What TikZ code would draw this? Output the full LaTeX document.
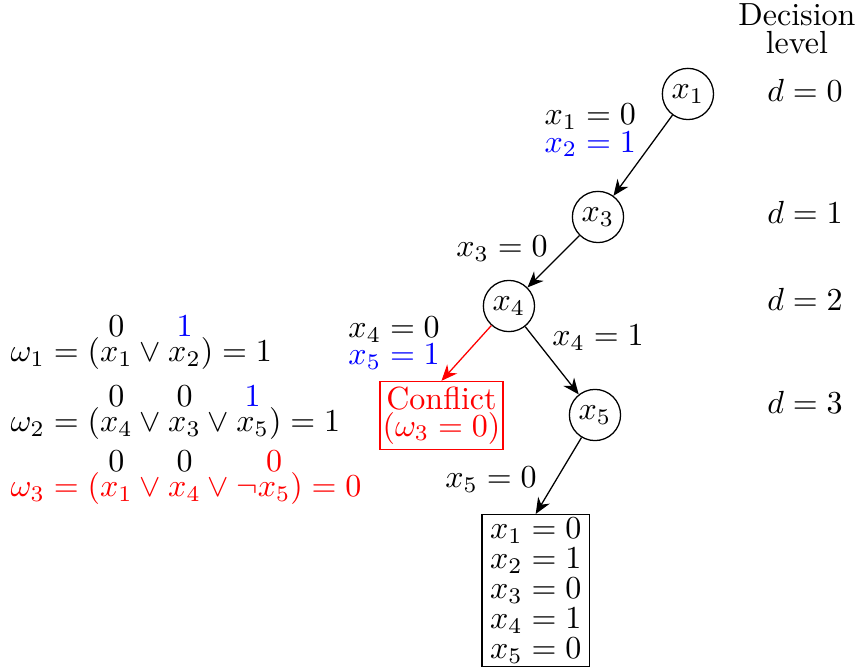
\documentclass[tikz,border=0pt]{standalone}
\usepackage{amsmath}
\usepackage{xcolor}
\usetikzlibrary{arrows.meta, positioning, calc}

\newcommand{\topval}[2]{\overset{\textstyle #1\rule[-2.4pt]{0pt}{0pt}}{#2}}

\begin{document}
\begin{tikzpicture}[
    var/.style={circle, draw, minimum size=16pt, inner sep=1pt},
    line/.style={draw, -{Stealth[length=5pt, width=4.2pt, inset=1.6pt]}},
    lbl/.style={align=center},
    clause/.style={anchor=base west, inner sep=0pt},
    level/.style={anchor=base}
]
    \useasboundingbox (0,0) rectangle (9.457,-7.326);

    % search tree
    \node [var] (x1) at (7.556,-1.032) {$x_1$};
    \node [var] (x3) at (6.568,-2.383) {$x_3$};
    \node [var] (x4) at (5.590,-3.361) {$x_4$};
    \node [var] (x5) at (6.535,-4.558) {$x_5$};

    \node [draw=red, text=red, align=center, inner xsep=0.8pt, inner ysep=1.7pt] (conflict) at (4.849,-4.563) {Conflict\\[-3.7pt]$(\omega_3 = 0)$};
    \node [draw, align=left, inner xsep=2.5pt, inner ysep=1pt, anchor=north] (result) at (5.884,-5.645) {$x_1 = 0$\\[-2.6pt]$x_2 = 1$\\[-2.6pt]$x_3 = 0$\\[-2.6pt]$x_4 = 1$\\[-2.6pt]$x_5 = 0$};

    \draw [line] (x1) -- node[lbl, pos=0.19, left=4.4pt] {$x_1 = 0$\\[-3.4pt]\textcolor{blue}{$x_2 = 1$}} (x3);
    \draw [line] (x3) -- node[lbl, pos=0.26, left=2.2pt] {$x_3 = 0$} (x4);
    \draw [line, red] (x4) -- node[lbl, text=black, pos=0.32, left=7.6pt] {$x_4 = 0$\\[-3.4pt]\textcolor{blue}{$x_5 = 1$}} (conflict.north);
    \draw [line] (x4) -- node[lbl, pos=0.16, right=2.3pt] {$x_4 = 1$} (x5);
    \draw [line] (x5) -- node[lbl, pos=0.55, left=2.6pt] {$x_5 = 0$} (result.north);

    % decision levels
    \node [align=center] (dlevel) at (8.753,-0.315) {Decision\\[-3.5pt]level};
    \node [level] (d0) at (8.841,-1.117) {$d = 0$};
    \node [level] (d1) at (8.841,-2.453) {$d = 1$};
    \node [level] (d2) at (8.841,-3.412) {$d = 2$};
    \node [level] (d3) at (8.841,-4.539) {$d = 3$};

    % clauses
    \node [clause] (w1) at (0.110,-3.973) {$\omega_1 = (\topval{0}{x_1} \vee \topval{\textcolor{blue}{1}}{x_2}) = 1$};
    \node [clause] (w2) at (0.110,-4.741) {$\omega_2 = (\topval{0}{x_4} \vee \topval{0}{x_3} \vee \topval{\textcolor{blue}{1}}{x_5}) = 1$};
    \node [clause, text=red] (w3) at (0.110,-5.455) {$\omega_3 = (\topval{\textcolor{black}{0}}{x_1} \vee \topval{\textcolor{black}{0}}{x_4} \vee \neg\topval{0}{x_5}) = 0$};
\end{tikzpicture}
\end{document}
